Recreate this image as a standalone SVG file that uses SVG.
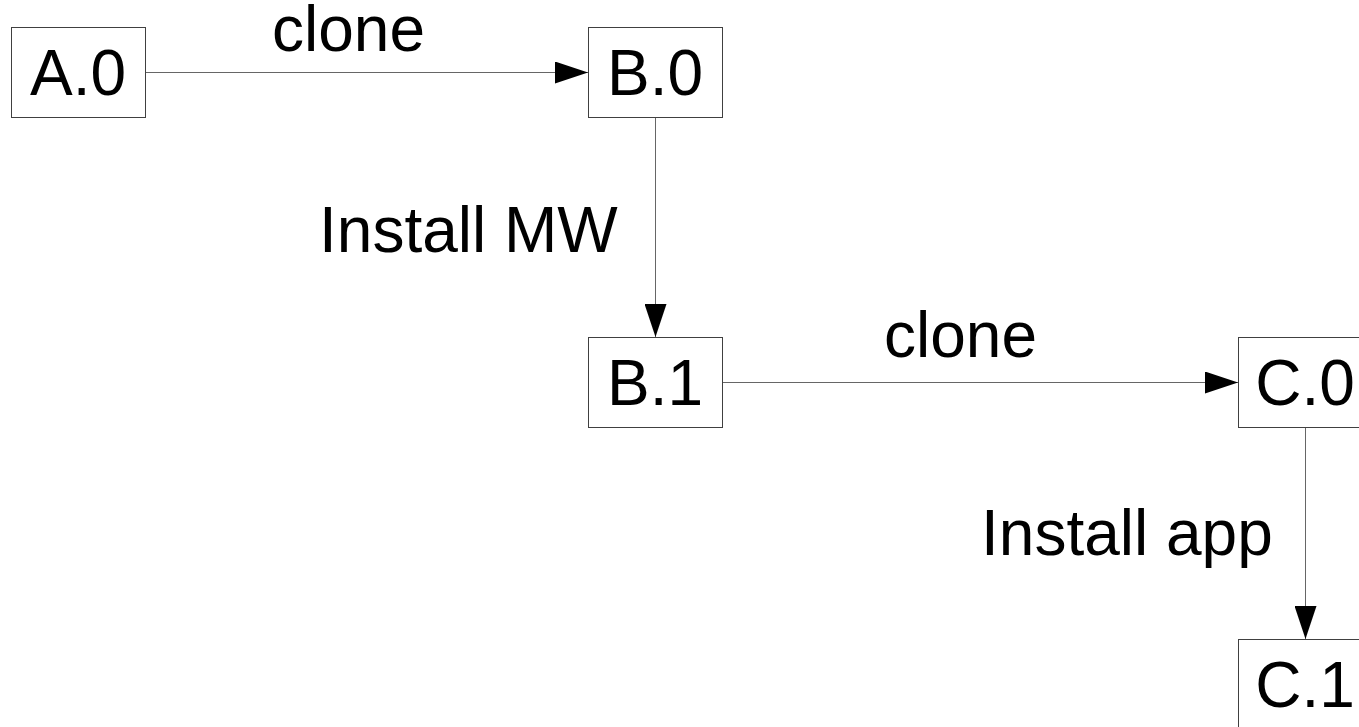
<svg xmlns="http://www.w3.org/2000/svg" width="1359" height="727" viewBox="0 0 1359 727">
<style>
.box{fill:#ffffff;stroke:#404040;stroke-width:1}
.lbl{font-family:"Liberation Sans",Arial,sans-serif;font-size:64px;fill:#000000}
.mid{text-anchor:middle}
.conn{stroke:#666666;stroke-width:1;fill:none;marker-end:url(#arr)}
</style>
<defs>
<marker id="arr" markerUnits="userSpaceOnUse" markerWidth="34" markerHeight="22" refX="33" refY="11" orient="auto" viewBox="0 0 34 22">
<path d="M0,0 L33,11 L0,22 z" fill="#000000"/>
</marker>
</defs>
<rect width="1359" height="727" fill="#ffffff"/>
<g id="connectors">
<line class="conn" x1="145.5" y1="72.5" x2="588" y2="72.5"/>
<line class="conn" x1="655.5" y1="117.5" x2="655.5" y2="337"/>
<line class="conn" x1="722.5" y1="382.5" x2="1238" y2="382.5"/>
<line class="conn" x1="1305.5" y1="427.5" x2="1305.5" y2="639"/>
<text class="lbl" x="272" y="51">clone</text>
<text class="lbl" x="319" y="252">Install MW</text>
<text class="lbl" x="884" y="357">clone</text>
<text class="lbl" x="981" y="555">Install app</text>
</g>
<g id="A0">
<rect class="box" x="11.5" y="27.5" width="134" height="90"/>
<text class="lbl mid" x="78" y="95">A.0</text>
</g>
<g id="B0">
<rect class="box" x="588.5" y="27.5" width="134" height="90"/>
<text class="lbl mid" x="655" y="95">B.0</text>
</g>
<g id="B1">
<rect class="box" x="588.5" y="337.5" width="134" height="90"/>
<text class="lbl mid" x="655" y="405">B.1</text>
</g>
<g id="C0">
<rect class="box" x="1238.5" y="337.5" width="134" height="90"/>
<text class="lbl mid" x="1305" y="405">C.0</text>
</g>
<g id="C1">
<rect class="box" x="1238.5" y="639.5" width="134" height="90"/>
<text class="lbl mid" x="1305" y="707">C.1</text>
</g>
</svg>
